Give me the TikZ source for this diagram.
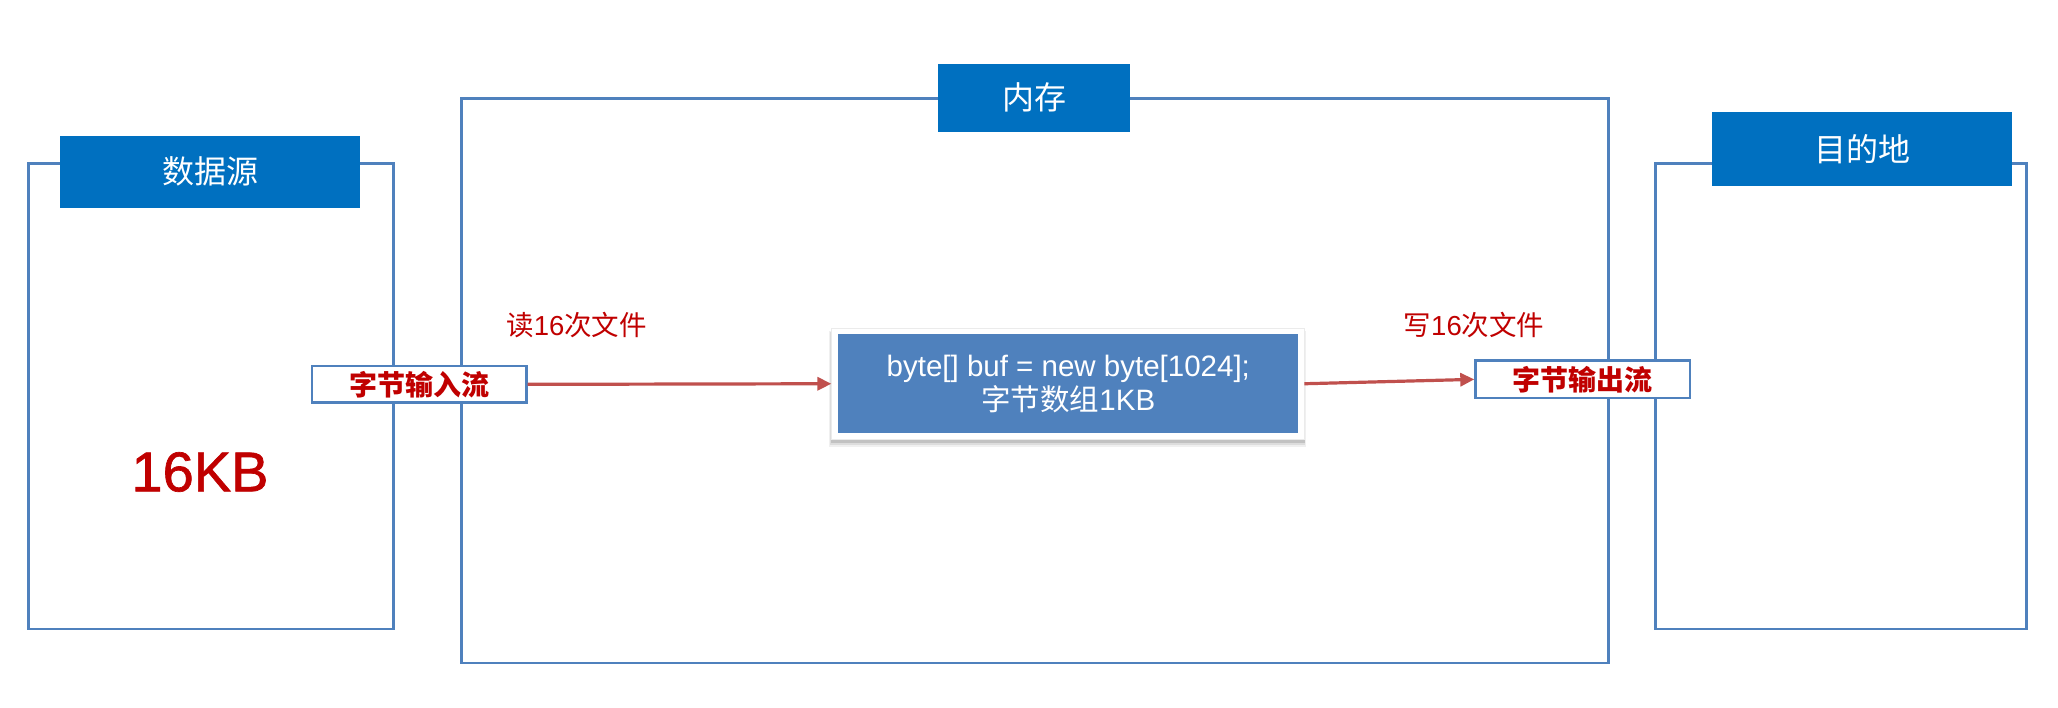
\documentclass[tikz,border=0pt]{standalone}
\usepackage{fontspec}
\setmainfont{Liberation Sans}
\newfontfamily\cjk{Noto Sans CJK SC}
\newfontfamily\heavysans[FakeBold=1.2]{Liberation Sans}
\usetikzlibrary{arrows.meta}
\definecolor{hdrblue}{HTML}{0070C0}
\definecolor{edgeblue}{HTML}{4F81BD}
\definecolor{bufblue}{HTML}{4F81BD}
\definecolor{txtred}{HTML}{C00000}
\definecolor{arrred}{HTML}{C0504D}
\tikzset{
  outbox/.style={draw=edgeblue, line width=2.8pt, fill=white, inner sep=0pt},
  hdrbox/.style={fill=hdrblue, text=white, inner sep=0pt, font=\fontsize{32}{38}\selectfont\cjk},
  streambox/.style={draw=edgeblue, line width=2.8pt, fill=white, inner sep=0pt, text=txtred, font=\fontsize{28}{32}\selectfont\cjk\bfseries},
  redlabel/.style={text=txtred, inner sep=0pt, font=\fontsize{27.5}{32}\selectfont},
  bufbox/.style={fill=bufblue, text=white, inner sep=0pt, align=center, font=\fontsize{29.5}{34}\selectfont},
  frame/.style={fill=white, draw=black!8, line width=0.6pt, inner sep=0pt},
  arr/.style={draw=arrred, line width=3.2pt, -{Triangle[length=14pt,width=13pt]}}
}
\begin{document}
\begin{tikzpicture}[x=1pt,y=-1pt]
\useasboundingbox (0,0) rectangle (2058,708);
% outer boxes
\node[outbox, minimum width=365.4pt, minimum height=465.7pt] (src) at (211,396.15) {};
\node[outbox, minimum width=1147pt, minimum height=564.7pt] (mem) at (1034.8,380.65) {};
\node[outbox, minimum width=371pt, minimum height=465.7pt] (dst) at (1840.8,396.15) {};
% headers
\node[hdrbox, minimum width=300pt, minimum height=71.7pt] (srcH) at (210,171.85) {数据源};
\node[hdrbox, minimum width=192pt, minimum height=67.7pt] (memH) at (1034,97.85) {内存};
\node[hdrbox, minimum width=300pt, minimum height=74pt] (dstH) at (1862,149) {目的地};
% 16KB
\node[text=txtred, inner sep=0pt, font=\fontsize{56}{64}\selectfont\heavysans] (size) at (200,472) {16KB};
% buffer with shadow
\fill[black, opacity=0.06] (829,331) rectangle (1306,447);
\fill[black, opacity=0.08] (830,332) rectangle (1305,445);
\fill[black, opacity=0.12] (831,333) rectangle (1304.5,443);
\node[frame, minimum width=472.3pt, minimum height=110.5pt] (bufF) at (1067.85,383.75) {};
\node[bufbox, minimum width=460pt, minimum height=99.3pt] (buf) at (1068.3,383.65)
  {byte[] buf = new byte[1024];\\{\cjk 字节数组}1KB};
% stream boxes
\node[streambox, minimum width=214.3pt, minimum height=36.7pt] (inS) at (419.15,384.35) {字节输入流};
\node[streambox, minimum width=214.3pt, minimum height=37.3pt] (outS) at (1582.85,379.35) {字节输出流};
% labels
\node[redlabel] (rd) at (576.6,324.7) {{\cjk 读}16{\cjk 次文件}};
\node[redlabel] (wr) at (1474,325) {{\cjk 写}16{\cjk 次文件}};
% arrows
\draw[arr] (inS.east) -- (bufF.west);
\draw[arr] (bufF.east) -- (outS.west);
\end{tikzpicture}
\end{document}
